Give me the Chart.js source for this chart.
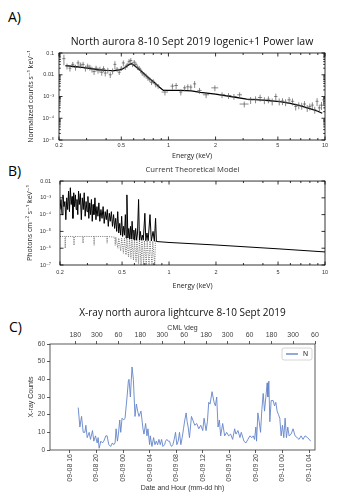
<!DOCTYPE html>
<html><head><meta charset="utf-8">
<script src="https://cdn.jsdelivr.net/npm/chart.js@4.4.0/dist/chart.umd.min.js"></script>
<style>
html,body{margin:0;padding:0;background:#fff;}
body{width:337px;height:500px;position:relative;overflow:hidden;}
.lab{position:absolute;font-family:"Open Sans",sans-serif;font-size:14px;line-height:14px;color:#000;}
canvas{position:absolute;left:0;}
</style></head><body>
<div class="lab" style="left:8px;top:10px">A)</div>
<div class="lab" style="left:8px;top:164px">B)</div>
<div class="lab" style="left:9px;top:320px">C)</div>
<canvas id="cA" width="337" height="165" style="top:0px"></canvas>
<canvas id="cB" width="337" height="140" style="top:160px"></canvas>
<canvas id="cC" width="337" height="200" style="top:300px"></canvas>
<script>
// ================= Panel A: fitted spectrum =================
const aTitle = 'North aurora 8-10 Sept 2019 Iogenic+1 Power law';
const aEnergy = [0.215,0.225,0.235,0.245,0.255,0.265,0.275,0.285,0.295,0.305,0.315,0.325,0.335,0.345,0.355,0.365,0.375,0.385,0.395,0.41,0.425,0.44,
  0.455,0.47,0.485,0.50,0.515,0.53,0.545,0.56,0.575,0.59,0.605,0.62,0.635,0.65,0.665,0.68,0.70,0.72,0.74,0.76,0.78,0.80,0.83,0.86,
  0.95,1.06,1.12,1.2,1.27,1.33,1.39,1.47,1.58,1.74,1.98,2.2,2.42,2.62,2.85,3.05,3.35,3.6,3.85,4.1,4.35,4.6,4.85,5.1,5.35,5.6,
  5.9,6.2,6.5,6.8,7.1,7.4,7.7,8.0,8.3,8.6,8.9,9.2,9.5,9.8];
const aCounts = [0.055,0.025,0.02,0.03,0.022,0.035,0.028,0.03,0.02,0.025,0.022,0.018,0.014,0.02,0.016,0.018,0.013,0.019,0.012,0.016,0.01,0.015,
  0.03,0.018,0.013,0.02,0.035,0.022,0.028,0.04,0.045,0.03,0.038,0.03,0.022,0.02,0.016,0.012,0.01,0.009,0.007,0.006,0.0045,0.005,0.0035,0.003,
  0.0016,0.003,0.0032,0.0016,0.0025,0.0028,0.0027,0.0038,0.0019,0.0012,0.0025,0.0012,0.0011,0.001,0.0012,0.00045,0.0007,0.00075,0.0009,0.00068,0.00075,0.0006,0.001,0.0006,0.00062,0.00055,
  0.0007,0.0006,0.00035,0.0004,0.00038,0.00045,0.0003,0.00035,0.0004,0.00025,0.0006,0.0003,0.0004,0.0007];
const aEnergyErr = [0.005,0.005,0.005,0.005,0.005,0.005,0.005,0.005,0.005,0.005,0.005,0.005,0.005,0.005,0.005,0.005,0.005,0.005,0.005,0.007,0.007,0.007,
  0.0075,0.0075,0.0075,0.0075,0.0075,0.0075,0.0075,0.0075,0.0075,0.0075,0.0075,0.0075,0.0075,0.0075,0.0075,0.0075,0.01,0.01,0.01,0.01,0.01,0.01,0.015,0.015,
  0.045,0.03,0.03,0.03,0.03,0.03,0.03,0.03,0.05,0.08,0.1,0.1,0.1,0.1,0.1,0.2,0.12,0.12,0.12,0.12,0.12,0.12,0.12,0.12,0.12,0.12,
  0.15,0.15,0.15,0.15,0.15,0.15,0.15,0.15,0.15,0.15,0.15,0.15,0.15,0.15];
const aCountsErr = [0.5,0.3,0.3,0.3,0.3,0.3,0.3,0.3,0.3,0.3,0.3,0.3,0.3,0.3,0.3,0.3,0.3,0.3,0.3,0.3,0.3,0.3,
  0.4,0.25,0.25,0.25,0.3,0.25,0.25,0.3,0.3,0.25,0.25,0.25,0.25,0.25,0.25,0.25,0.25,0.25,0.25,0.25,0.25,0.25,0.25,0.25,
  0.3,0.3,0.3,0.3,0.3,0.3,0.3,0.35,0.3,0.3,0.3,0.3,0.3,0.3,0.3,0.3,0.35,0.35,0.35,0.35,0.35,0.35,0.35,0.35,0.35,0.35,
  0.35,0.35,0.35,0.35,0.35,0.35,0.35,0.35,0.35,0.35,0.4,0.4,0.4,0.45];
const aModelEnergy = [0.22,0.25,0.28,0.32,0.36,0.40,0.45,0.50,0.53,0.56,0.58,0.60,0.63,0.66,0.70,0.73,0.77,0.82,0.87,0.905,0.93,1.0,1.2,1.4,1.6,2.0,2.5,3.16,4.0,5.15,6.0,6.9,8.0,9.0,9.6];
const aModel = [0.026,0.024,0.022,0.019,0.017,0.016,0.0155,0.017,0.022,0.029,0.032,0.028,0.021,0.016,0.011,0.0083,0.006,0.0042,0.0028,0.0022,0.0019,0.0019,0.0019,0.0018,0.00155,0.0013,0.001,0.00076,0.00068,0.00058,0.00048,0.00038,0.00028,0.00021,0.00017];
const aXTicks = [0.2,0.5,1,2,5,10];
const aXTickLabels = ['0.2','0.5','1','2','5','10'];
const aXMinor = [0.3,0.4,0.6,0.7,0.8,0.9,3,4,6,7,8,9];
const aYTicks = [1e-5,1e-4,1e-3,0.01,0.1];
const aYTickLabels = ['10⁻⁵','10⁻⁴','10⁻³','0.01','0.1'];
const aYMinor = [2e-5,3e-5,4e-5,5e-5,6e-5,7e-5,8e-5,9e-5,2e-4,3e-4,4e-4,5e-4,6e-4,7e-4,8e-4,9e-4,2e-3,3e-3,4e-3,5e-3,6e-3,7e-3,8e-3,9e-3,0.02,0.03,0.04,0.05,0.06,0.07,0.08,0.09];

// ================= Panel B: theoretical model =================
const bTitle = 'Current Theoretical Model';
const bEnergy = [0.200,0.203,0.206,0.209,0.212,0.215,0.218,0.221,0.224,0.227,0.230,0.233,0.236,0.239,0.242,0.245,0.248,0.251,0.254,0.257,
  0.260,0.263,0.266,0.270,0.274,0.278,0.282,0.286,0.290,0.294,0.298,0.302,0.306,0.310,0.314,0.318,0.322,0.326,0.330,0.335,
  0.340,0.345,0.350,0.355,0.360,0.366,0.372,0.378,0.384,0.390,0.396,0.402,0.408,0.414,0.420,0.427,0.434,0.441,0.448,0.455,
  0.462,0.469,0.476,0.483,0.490,0.497,0.504,0.511,0.518,0.525,0.531,0.537,0.545,0.552,0.560,0.566,0.573,0.580,0.588,0.595,
  0.603,0.611,0.620,0.628,0.638,0.646,0.655,0.664,0.674,0.684,0.700,0.710,0.722,0.735,0.755,0.770,0.790,0.805,0.820,0.830,
  1.0,2.0,5.0,10];
const bFlux = [2e-4,8e-4,1e-4,1.5e-3,3e-4,6e-4,5e-5,1e-3,2e-4,2.5e-3,1.5e-4,4e-3,4e-4,1.2e-3,6e-5,2e-3,3e-4,1.5e-3,2e-4,8e-4,
  1e-4,2.5e-3,4e-4,1.8e-3,5e-5,1e-3,2e-4,2e-3,8e-5,6e-4,1.5e-4,1.2e-3,6e-5,5e-4,1e-4,8e-4,4e-5,4e-4,1e-4,1e-3,
  5e-5,3e-4,8e-5,5e-4,4e-5,2e-4,6e-5,3e-4,3e-5,1.5e-4,5e-5,2e-4,2e-5,1.2e-4,4e-5,1.5e-4,2e-5,1e-4,1.5e-5,6e-5,
  1e-5,1.5e-4,8e-6,3e-5,6e-6,8e-5,5e-6,2e-5,6e-6,1e-4,4e-6,1.5e-3,4e-6,1.5e-5,3.5e-6,2e-5,3.5e-6,4e-5,3.5e-6,1.2e-5,
  3e-6,1.5e-5,3e-6,8e-6,8e-4,3e-6,1e-5,3e-6,6e-6,3e-6,1.2e-4,2.8e-6,8e-6,2.8e-6,1e-4,2.7e-6,1e-5,2.6e-6,6e-5,2.5e-6,
  2.2e-6,1.55e-6,9.2e-7,6e-7];
const bContEnergy = [0.200,0.215,0.216,0.217,0.245,0.246,0.247,0.280,0.281,0.282,0.330,0.331,0.332,0.400,0.401,0.402,0.440,
  0.450,0.452,0.456,0.470,0.476,0.490,0.497,0.510,0.518,0.530,0.537,0.550,0.558,0.570,0.578,0.592,0.600,0.615,0.622,
  0.638,0.646,0.662,0.670,0.688,0.696,0.715,0.724,0.745,0.755,0.778,0.786,0.810,0.818,0.830];
const bCont = [5e-6,5e-6,1e-6,5e-6,5e-6,1.5e-6,5e-6,5e-6,2e-6,5e-6,5e-6,1.5e-6,5e-6,5e-6,2e-6,5e-6,4.6e-6,
  4.5e-6,1.5e-6,4.5e-6,1e-6,4e-6,7e-7,4e-6,5e-7,4e-6,4e-7,3.5e-6,3e-7,3.5e-6,2.5e-7,3.5e-6,2e-7,3e-6,1.5e-7,3e-6,
  1.2e-7,3e-6,1e-7,3e-6,1e-7,2.8e-6,1e-7,2.8e-6,1e-7,2.7e-6,1e-7,2.6e-6,1e-7,2.6e-6,2.5e-6];
const bXTicks = [0.2,0.5,1,2,5,10];
const bXTickLabels = ['0.2','0.5','1','2','5','10'];
const bXMinor = [0.3,0.4,0.6,0.7,0.8,0.9,3,4,6,7,8,9];
const bYTicks = [1e-7,1e-6,1e-5,1e-4,1e-3,0.01];
const bYTickLabels = ['10⁻⁷','10⁻⁶','10⁻⁵','10⁻⁴','10⁻³','0.01'];
const bYMinor = [];

// ================= Panel C: light curve =================
const cTitle = 'X-ray north aurora lightcurve 8-10 Sept 2019';
const cSeriesName = 'N';
// hours counted from 09-08 00:00
const cHours = [17.25,17.5,17.75,18.0,18.25,18.4,18.6,18.9,19.1,19.4,19.6,19.85,20.1,20.25,20.4,20.65,20.9,21.1,21.4,21.6,21.85,22.15,22.4,22.6,22.8,22.95,
  23.15,23.3,23.5,23.65,23.85,24.1,24.3,24.6,24.8,24.9,25.1,25.35,25.55,25.8,26.0,26.2,26.4,26.7,27.0,27.15,27.4,27.6,27.75,28.0,28.1,28.35,28.6,28.8,
  29.0,29.2,29.4,29.6,29.8,30.0,30.25,30.4,30.6,30.8,31.0,31.15,31.3,31.5,31.7,31.9,32.1,32.3,32.5,32.7,32.9,33.1,33.3,33.5,33.65,33.8,34.0,34.3,34.5,
  34.8,35.1,35.4,35.7,36.0,36.2,36.5,36.7,36.9,37.1,37.4,37.7,37.9,38.1,38.3,38.5,38.7,39.0,39.3,39.6,39.9,40.2,40.5,40.8,41.0,41.3,41.6,41.8,42.2,
  42.5,42.8,43.1,43.4,43.6,43.8,44.0,44.1,44.3,44.5,44.7,44.9,45.1,45.3,45.5,45.7,45.8,45.95,46.1,46.3,46.6,46.8,47.0,47.2,47.4,47.6,47.8,48.0,48.2,
  48.4,48.6,48.8,49.0,49.3,49.6,49.9,50.2,50.5,50.8,51.1,51.4,51.8,52.25];
const cCounts = [24,13,19,10,10,14,7,10,6,11,5,8,4,7,1,5,4,5,8,8,3,2,4,3,4,12,
  5,9,17,10,18,17,18,30,39,40,30,47,40,19,26,22,19,22,12,9,15,8,12,3,8,2,7,3,
  5,3,6,3,6,2,3,5,6,5,5,3,2,3,6,10,3,5,10,3,7,12,17,21,16,13,7,19,17,
  14,15,12,14,11,18,11,16,27,26,33,27,25,30,13,17,8,15,8,10,8,9,6,12,9,11,7,10,5,
  4,6,8,7,8,6,13,5,21,16,10,23,32,22,30,38,30,39,16,28,28,25,27,22,20,18,8,14,7,
  18,7,13,8,9,12,8,7,6,8,6,8,7,5];
const cDateTicks = [16,20,24,28,32,36,40,44,48,52];
const cDateLabels = ['09-08 16','09-08 20','09-09 00','09-09 04','09-09 08','09-09 12','09-09 16','09-09 20','09-10 00','09-10 04'];
const cCmlTicks = [16.8,20.05,23.3,26.6,29.9,33.2,36.5,39.75,43.05,46.35,49.6,52.9];
const cCmlLabels = ['180','300','60','180','300','60','180','300','60','180','300','60'];
const cYTicks = [0,10,20,30,40,50,60];

// ================= helpers =================
const SANS = "'Liberation Sans', Arial, 'DejaVu Sans', sans-serif";
const OPEN = "'Open Sans', 'DejaVu Sans', sans-serif";

function framePlugin(cfg) {
  return {
    id: 'frame',
    afterDatasetsDraw(chart) {
      const {ctx, chartArea: ca} = chart;
      const xs = chart.scales.x, ys = chart.scales.y;
      ctx.save();
      ctx.strokeStyle = cfg.color; ctx.lineWidth = cfg.width;
      ctx.strokeRect(ca.left, ca.top, ca.right - ca.left, ca.bottom - ca.top);
      ctx.beginPath();
      const xt = (vals, len) => vals.forEach(v => {
        const p = xs.getPixelForValue(v);
        ctx.moveTo(p, ca.bottom); ctx.lineTo(p, ca.bottom - len);
        ctx.moveTo(p, ca.top); ctx.lineTo(p, ca.top + len);
      });
      const yt = (vals, len) => vals.forEach(v => {
        const p = ys.getPixelForValue(v);
        ctx.moveTo(ca.left, p); ctx.lineTo(ca.left + len, p);
        ctx.moveTo(ca.right, p); ctx.lineTo(ca.right - len, p);
      });
      if (cfg.xMajor) xt(cfg.xMajor, 3.5);
      if (cfg.xMinor) xt(cfg.xMinor, 2);
      if (cfg.yMajor) yt(cfg.yMajor, 3.5);
      if (cfg.yMinor) yt(cfg.yMinor, 1.8);
      ctx.stroke();
      ctx.restore();
    }
  };
}

const errBarPlugin = {
  id: 'errBars',
  afterDatasetsDraw(chart) {
    const {ctx, chartArea: ca} = chart;
    const xs = chart.scales.x, ys = chart.scales.y;
    ctx.save();
    ctx.beginPath(); ctx.rect(ca.left, ca.top, ca.right - ca.left, ca.bottom - ca.top); ctx.clip();
    ctx.strokeStyle = '#555'; ctx.lineWidth = 0.7;
    ctx.beginPath();
    aEnergy.forEach((e, i) => {
      const v = aCounts[i];
      const x1 = xs.getPixelForValue(e - aEnergyErr[i]);
      const x2 = xs.getPixelForValue(e + aEnergyErr[i]);
      const y = ys.getPixelForValue(v);
      const px = xs.getPixelForValue(e);
      const y1 = ys.getPixelForValue(v * (1 - aCountsErr[i]));
      const y2 = ys.getPixelForValue(v * (1 + aCountsErr[i]));
      ctx.moveTo(Math.min(x1, px - 1.5), y); ctx.lineTo(Math.max(x2, px + 1.5), y);
      ctx.moveTo(px, y1); ctx.lineTo(px, y2);
    });
    ctx.stroke();
    ctx.restore();
  }
};

const legendPlugin = {
  id: 'boxLegend',
  afterDraw(chart) {
    const {ctx, chartArea: ca} = chart;
    const ds = chart.data.datasets[0];
    const w = 30, h = 12;
    const x = ca.right - 3 - w, y = ca.top + 4;
    ctx.save();
    ctx.fillStyle = 'rgba(255,255,255,0.9)';
    ctx.strokeStyle = '#cccccc'; ctx.lineWidth = 0.8;
    ctx.beginPath();
    if (ctx.roundRect) ctx.roundRect(x, y, w, h, 2); else ctx.rect(x, y, w, h);
    ctx.fill(); ctx.stroke();
    ctx.strokeStyle = ds.borderColor; ctx.lineWidth = 1.4;
    ctx.beginPath(); ctx.moveTo(x + 4, y + h / 2); ctx.lineTo(x + 16, y + h / 2); ctx.stroke();
    ctx.fillStyle = '#222'; ctx.font = '7px ' + SANS; ctx.textBaseline = 'middle'; ctx.textAlign = 'left';
    ctx.fillText(ds.label, x + 21, y + h / 2 + 0.5);
    ctx.restore();
  }
};

function setTicks(vals) { return s => { s.ticks = vals.map(v => ({value: v})); }; }
const noGrid = {display: false, drawTicks: false, tickLength: 0};

// ================= Chart A =================
new Chart(document.getElementById('cA'), {
  type: 'scatter',
  data: {
    datasets: [
      {label: 'data', data: aEnergy.map((e, i) => ({x: e, y: aCounts[i]})), pointRadius: 0, showLine: false},
      {label: 'model', data: aModelEnergy.map((e, i) => ({x: e, y: aModel[i]})), showLine: true, pointRadius: 0, borderColor: '#000', borderWidth: 1.3, tension: 0}
    ]
  },
  options: {
    responsive: false, animation: false,
    layout: {padding: {left: 0, right: 12, top: 0, bottom: 0}},
    plugins: {
      legend: {display: false}, tooltip: {enabled: false},
      title: {display: true, fullSize: false, text: aTitle, color: '#111', font: {family: OPEN, size: 10.5, weight: 'normal', lineHeight: 1.2}, padding: {top: 35.7, bottom: 4.7}}
    },
    scales: {
      x: {type: 'logarithmic', position: 'bottom', min: 0.2, max: 10, bounds: 'data',
        afterBuildTicks: setTicks(aXTicks), afterFit: s => { s.height = 25; },
        grid: noGrid, border: {display: false},
        ticks: {autoSkip: false, maxRotation: 0, padding: 2, color: '#333', font: {family: SANS, size: 5.5}, callback: (v, i) => aXTickLabels[i]},
        title: {display: true, text: 'Energy (keV)', color: '#222', font: {family: OPEN, size: 7}, padding: {top: 0, bottom: 4.8}}
      },
      y: {type: 'logarithmic', position: 'left', min: 1e-5, max: 0.1, bounds: 'data',
        afterBuildTicks: setTicks(aYTicks), afterFit: s => { s.width = 59; },
        grid: noGrid, border: {display: false},
        ticks: {autoSkip: false, padding: 5, color: '#333', font: {family: SANS, size: 5.5}, callback: (v, i) => aYTickLabels[i]},
        title: {display: true, text: 'Normalized counts s⁻¹ keV⁻¹', color: '#222', font: {family: OPEN, size: 7}, padding: {top: 26.8, bottom: 0}}
      }
    }
  },
  plugins: [framePlugin({color: '#000', width: 0.8, xMajor: aXTicks, xMinor: aXMinor, yMajor: aYTicks, yMinor: aYMinor}), errBarPlugin]
});

// ================= Chart B =================
new Chart(document.getElementById('cB'), {
  type: 'scatter',
  data: {
    datasets: [
      {label: 'continuum', data: bContEnergy.map((e, i) => ({x: e, y: bCont[i]})), showLine: true, pointRadius: 0, borderColor: '#555', borderWidth: 0.8, borderDash: [1, 1.2], tension: 0},
      {label: 'model', data: bEnergy.map((e, i) => ({x: e, y: bFlux[i]})), showLine: true, pointRadius: 0, borderColor: '#000', borderWidth: 1.0, tension: 0}
    ]
  },
  options: {
    responsive: false, animation: false,
    layout: {padding: {left: 0, right: 12, top: 0, bottom: 0}},
    plugins: {
      legend: {display: false}, tooltip: {enabled: false},
      title: {display: true, fullSize: false, text: bTitle, color: '#333', font: {family: OPEN, size: 7.7, weight: 'normal', lineHeight: 1.2}, padding: {top: 5.4, bottom: 6.4}}
    },
    scales: {
      x: {type: 'logarithmic', position: 'bottom', min: 0.2, max: 10, bounds: 'data',
        afterBuildTicks: setTicks(bXTicks), afterFit: s => { s.height = 35; },
        grid: noGrid, border: {display: false},
        ticks: {autoSkip: false, maxRotation: 0, padding: 3.7, color: '#333', font: {family: SANS, size: 5.5}, callback: (v, i) => bXTickLabels[i]},
        title: {display: true, text: 'Energy (keV)', color: '#222', font: {family: OPEN, size: 7}, padding: {top: 0, bottom: 9.8}}
      },
      y: {type: 'logarithmic', position: 'left', min: 1e-7, max: 0.01, bounds: 'data',
        afterBuildTicks: setTicks(bYTicks), afterFit: s => { s.width = 60; },
        grid: noGrid, border: {display: false},
        ticks: {autoSkip: false, padding: 9, color: '#333', font: {family: SANS, size: 5.5}, callback: (v, i) => bYTickLabels[i]},
        title: {display: true, text: 'Photons cm⁻² s⁻¹ keV⁻¹', color: '#222', font: {family: OPEN, size: 7}, padding: {top: 25.8, bottom: 0}}
      }
    }
  },
  plugins: [framePlugin({color: '#000', width: 0.8, xMajor: bXTicks, xMinor: bXMinor, yMajor: bYTicks, yMinor: bYMinor})]
});

// ================= Chart C =================
new Chart(document.getElementById('cC'), {
  type: 'scatter',
  data: {
    datasets: [
      {label: cSeriesName, data: cHours.map((h, i) => ({x: h, y: cCounts[i]})), showLine: true, pointRadius: 0, borderColor: '#6384c9', borderWidth: 0.9, tension: 0}
    ]
  },
  options: {
    responsive: false, animation: false,
    layout: {padding: {left: 0, right: 22, top: 0, bottom: 0}},
    plugins: {
      legend: {display: false}, tooltip: {enabled: false},
      title: {display: true, fullSize: false, text: cTitle, color: '#111', font: {family: OPEN, size: 10, weight: 'normal', lineHeight: 1.2}, padding: {top: 7, bottom: 3}}
    },
    scales: {
      x: {type: 'linear', position: 'bottom', min: 13, max: 52.9, bounds: 'data',
        afterBuildTicks: setTicks(cDateTicks), afterFit: s => { s.height = 50; },
        grid: {display: true, drawOnChartArea: false, drawTicks: true, tickLength: 3, color: '#333', lineWidth: 0.8}, border: {display: false},
        ticks: {autoSkip: false, minRotation: 90, maxRotation: 90, padding: 1, color: '#444', font: {family: SANS, size: 7}, callback: (v, i) => cDateLabels[i]},
        title: {display: true, text: 'Date and Hour (mm-dd hh)', color: '#333', font: {family: SANS, size: 7}, padding: {top: 0, bottom: 7.8}}
      },
      x2: {type: 'linear', position: 'top', min: 13, max: 52.9, bounds: 'data',
        afterBuildTicks: setTicks(cCmlTicks), afterFit: s => { s.height = 22; },
        grid: {display: true, drawOnChartArea: false, drawTicks: true, tickLength: 3, color: '#333', lineWidth: 0.8}, border: {display: false},
        ticks: {autoSkip: false, maxRotation: 0, padding: 1.8, color: '#444', font: {family: SANS, size: 7}, callback: (v, i) => cCmlLabels[i]},
        title: {display: true, text: 'CML \\deg', color: '#333', font: {family: SANS, size: 7}, padding: {top: 1.8, bottom: 0}}
      },
      y: {type: 'linear', position: 'left', min: 0, max: 60, bounds: 'data',
        afterBuildTicks: setTicks(cYTicks), afterFit: s => { s.width = 50; },
        grid: {display: true, drawOnChartArea: false, drawTicks: true, tickLength: 3, color: '#333', lineWidth: 0.8}, border: {display: false},
        ticks: {autoSkip: false, padding: 2, color: '#444', font: {family: SANS, size: 6.5}, callback: (v) => String(v)},
        title: {display: true, text: 'X-ray Counts', color: '#333', font: {family: SANS, size: 7}, padding: {top: 26.5, bottom: 0}}
      }
    }
  },
  plugins: [framePlugin({color: '#333', width: 0.8}), legendPlugin]
});
</script>
</body></html>
